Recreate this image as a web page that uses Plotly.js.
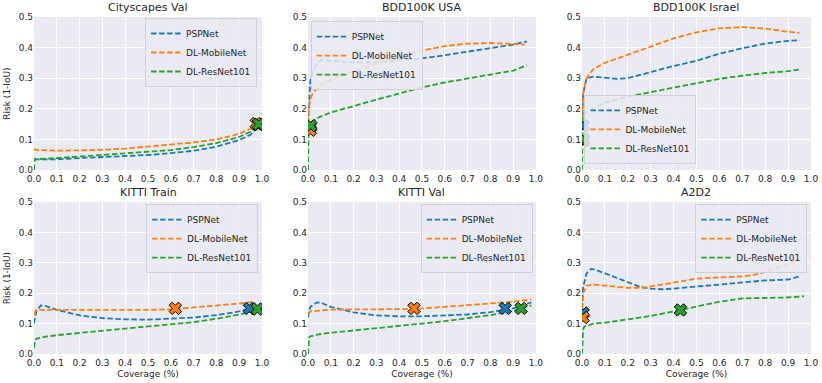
<!DOCTYPE html>
<html>
<head>
<meta charset="utf-8">
<script src="https://cdn.plot.ly/plotly-3.0.1.min.js"></script>
<style>
  html, body { margin: 0; padding: 0; background: #fff; }
  #chart { width: 822px; height: 383px; }
</style>
</head>
<body>
<div id="chart"></div>
<script>
const PANEL_TITLES = ['Cityscapes Val', 'BDD100K USA', 'BDD100K Israel', 'KITTI Train', 'KITTI Val', 'A2D2'];
const SERIES_NAMES = ['PSPNet', 'DL-MobileNet', 'DL-ResNet101'];
const X_TICKS = [0, 0.1, 0.2, 0.3, 0.4, 0.5, 0.6, 0.7, 0.8, 0.9, 1.0];
const Y_TICKS = [0, 0.1, 0.2, 0.3, 0.4, 0.5];

// Cityscapes Val
const cityPspX = [0, 0.1, 0.2, 0.3, 0.4, 0.5, 0.6, 0.7, 0.8, 0.9, 0.95, 0.985];
const cityPspY = [0.035, 0.035, 0.039, 0.042, 0.045, 0.049, 0.055, 0.063, 0.076, 0.098, 0.115, 0.145];
const cityMobX = [0, 0.005, 0.1, 0.2, 0.3, 0.4, 0.5, 0.6, 0.7, 0.8, 0.9, 0.95, 0.975];
const cityMobY = [0.07, 0.066, 0.063, 0.064, 0.066, 0.07, 0.076, 0.082, 0.09, 0.1, 0.118, 0.135, 0.152];
const cityResX = [0, 0.003, 0.1, 0.2, 0.3, 0.4, 0.5, 0.6, 0.7, 0.8, 0.9, 0.95, 0.985];
const cityResY = [0.0, 0.035, 0.039, 0.044, 0.048, 0.053, 0.058, 0.065, 0.075, 0.088, 0.108, 0.125, 0.15];
const cityMarkX = [0.985, 0.975, 0.985];
const cityMarkY = [0.148, 0.152, 0.15];

// BDD100K USA
const usaPspX = [0, 0.005, 0.01, 0.02, 0.04, 0.06, 0.1, 0.2, 0.3, 0.4, 0.5, 0.6, 0.7, 0.8, 0.9, 0.96];
const usaPspY = [0.15, 0.24, 0.29, 0.32, 0.35, 0.36, 0.357, 0.352, 0.352, 0.358, 0.365, 0.375, 0.386, 0.398, 0.41, 0.42];
const usaMobX = [0, 0.003, 0.01, 0.02, 0.05, 0.1, 0.2, 0.3, 0.4, 0.5, 0.6, 0.7, 0.8, 0.9, 0.95];
const usaMobY = [0.13, 0.2, 0.23, 0.25, 0.275, 0.295, 0.322, 0.345, 0.37, 0.39, 0.405, 0.413, 0.415, 0.412, 0.41];
const usaResX = [0, 0.003, 0.01, 0.05, 0.1, 0.2, 0.3, 0.4, 0.5, 0.6, 0.7, 0.8, 0.9, 0.96];
const usaResY = [0.0, 0.14, 0.155, 0.173, 0.188, 0.21, 0.23, 0.25, 0.27, 0.286, 0.3, 0.312, 0.325, 0.342];
const usaMarkX = [0.01, 0.01, 0.012];
const usaMarkY = [0.14, 0.13, 0.145];

// BDD100K Israel
const isrPspX = [0, 0.005, 0.02, 0.05, 0.1, 0.15, 0.2, 0.25, 0.3, 0.4, 0.5, 0.6, 0.7, 0.8, 0.9, 0.95];
const isrPspY = [0.15, 0.25, 0.3, 0.305, 0.302, 0.298, 0.3, 0.31, 0.322, 0.34, 0.357, 0.38, 0.398, 0.413, 0.422, 0.424];
const isrMobX = [0, 0.005, 0.02, 0.05, 0.1, 0.2, 0.3, 0.4, 0.5, 0.6, 0.7, 0.8, 0.9, 0.95];
const isrMobY = [0.14, 0.25, 0.3, 0.33, 0.35, 0.377, 0.405, 0.43, 0.45, 0.463, 0.467, 0.462, 0.452, 0.448];
const isrResX = [0, 0.003, 0.05, 0.1, 0.2, 0.3, 0.4, 0.5, 0.6, 0.7, 0.8, 0.9, 0.95];
const isrResY = [0.0, 0.18, 0.2, 0.22, 0.24, 0.255, 0.27, 0.285, 0.298, 0.308, 0.317, 0.323, 0.328];
const isrMarkX = [0.005, 0.005, 0.005];
const isrMarkY = [0.145, 0.095, 0.1];

// KITTI Train
const ktPspX = [0, 0.01, 0.03, 0.05, 0.1, 0.2, 0.3, 0.4, 0.5, 0.6, 0.7, 0.8, 0.9, 0.95];
const ktPspY = [0.1, 0.14, 0.16, 0.158, 0.145, 0.127, 0.118, 0.114, 0.113, 0.116, 0.12, 0.128, 0.14, 0.15];
const ktMobX = [0, 0.01, 0.1, 0.3, 0.5, 0.6, 0.7, 0.8, 0.9, 0.97];
const ktMobY = [0.13, 0.145, 0.145, 0.144, 0.145, 0.147, 0.153, 0.16, 0.166, 0.172];
const ktResX = [0, 0.005, 0.01, 0.05, 0.1, 0.2, 0.3, 0.4, 0.5, 0.6, 0.7, 0.8, 0.9, 0.97, 1.0];
const ktResY = [0.02, 0.045, 0.05, 0.057, 0.062, 0.069, 0.076, 0.082, 0.089, 0.097, 0.105, 0.116, 0.13, 0.143, 0.15];
const ktMarkX = [0.945, 0.62, 0.98];
const ktMarkY = [0.15, 0.15, 0.148];

// KITTI Val
const kvPspX = [0, 0.01, 0.04, 0.06, 0.1, 0.2, 0.3, 0.4, 0.5, 0.6, 0.7, 0.8, 0.9, 0.98];
const kvPspY = [0.12, 0.155, 0.17, 0.168, 0.155, 0.137, 0.127, 0.124, 0.124, 0.126, 0.13, 0.138, 0.15, 0.17];
const kvMobX = [0, 0.01, 0.1, 0.3, 0.46, 0.6, 0.7, 0.8, 0.9, 0.98];
const kvMobY = [0.13, 0.14, 0.146, 0.146, 0.148, 0.155, 0.16, 0.167, 0.172, 0.18];
const kvResX = [0, 0.005, 0.01, 0.05, 0.1, 0.2, 0.3, 0.4, 0.5, 0.6, 0.7, 0.8, 0.9, 0.98];
const kvResY = [0.0, 0.055, 0.058, 0.065, 0.07, 0.077, 0.085, 0.092, 0.1, 0.108, 0.117, 0.128, 0.142, 0.16];
const kvMarkX = [0.865, 0.465, 0.935];
const kvMarkY = [0.15, 0.15, 0.15];

// A2D2
const a2PspX = [0, 0.005, 0.02, 0.04, 0.06, 0.1, 0.2, 0.25, 0.3, 0.35, 0.4, 0.5, 0.6, 0.7, 0.8, 0.9, 0.95];
const a2PspY = [0.15, 0.22, 0.265, 0.28, 0.277, 0.265, 0.235, 0.222, 0.215, 0.213, 0.215, 0.222, 0.23, 0.237, 0.242, 0.245, 0.255];
const a2MobX = [0, 0.005, 0.02, 0.05, 0.1, 0.2, 0.27, 0.3, 0.4, 0.5, 0.6, 0.7, 0.75, 0.8, 0.9, 0.94];
const a2MobY = [0.12, 0.2, 0.225, 0.228, 0.225, 0.218, 0.218, 0.222, 0.235, 0.248, 0.252, 0.255, 0.26, 0.27, 0.295, 0.308];
const a2ResX = [0, 0.005, 0.01, 0.05, 0.1, 0.2, 0.3, 0.4, 0.5, 0.6, 0.7, 0.8, 0.9, 0.97];
const a2ResY = [0.0, 0.08, 0.09, 0.1, 0.103, 0.113, 0.125, 0.14, 0.155, 0.172, 0.183, 0.184, 0.186, 0.19];
const a2MarkX = [0.005, 0.005, 0.43];
const a2MarkY = [0.135, 0.12, 0.145];

const COLORS = ['#1f77b4', '#ff7f0e', '#2ca02c'];
const BG = '#eaeaf2';
const FONT = 'DejaVu Sans, sans-serif';

const panels = [
  { lines: [[cityPspX, cityPspY], [cityMobX, cityMobY], [cityResX, cityResY]], markX: cityMarkX, markY: cityMarkY },
  { lines: [[usaPspX, usaPspY], [usaMobX, usaMobY], [usaResX, usaResY]], markX: usaMarkX, markY: usaMarkY },
  { lines: [[isrPspX, isrPspY], [isrMobX, isrMobY], [isrResX, isrResY]], markX: isrMarkX, markY: isrMarkY },
  { lines: [[ktPspX, ktPspY], [ktMobX, ktMobY], [ktResX, ktResY]], markX: ktMarkX, markY: ktMarkY },
  { lines: [[kvPspX, kvPspY], [kvMobX, kvMobY], [kvResX, kvResY]], markX: kvMarkX, markY: kvMarkY },
  { lines: [[a2PspX, a2PspY], [a2MobX, a2MobY], [a2ResX, a2ResY]], markX: a2MarkX, markY: a2MarkY }
];

const xDomains = [[0.0414, 0.3187], [0.3747, 0.652], [0.708, 0.9866]];
const yDomains = [[0.5561, 0.9556], [0.0757, 0.4726]];

const legendPos = [
  { x: 0.3127, y: 0.953, xanchor: 'right', yanchor: 'top' },
  { x: 0.378, y: 0.945, xanchor: 'left', yanchor: 'top' },
  { x: 0.711, y: 0.572, xanchor: 'left', yanchor: 'bottom' },
  { x: 0.314, y: 0.467, xanchor: 'right', yanchor: 'top' },
  { x: 0.648, y: 0.467, xanchor: 'right', yanchor: 'top' },
  { x: 0.982, y: 0.467, xanchor: 'right', yanchor: 'top' }
];

function axisSuffix(i) {
  return i === 0 ? '' : String(i + 1);
}

function buildTraces() {
  const traces = [];
  panels.forEach((panel, p) => {
    const sfx = axisSuffix(p);
    const legendId = 'legend' + sfx;
    panel.lines.forEach(([xs, ys], s) => {
      traces.push({
        type: 'scatter',
        mode: 'lines',
        name: SERIES_NAMES[s],
        x: xs,
        y: ys,
        xaxis: 'x' + sfx,
        yaxis: 'y' + sfx,
        legend: legendId,
        line: { color: COLORS[s], width: 1.8, dash: '5.5px,2.5px' }
      });
    });
    panel.markX.forEach((mx, s) => {
      traces.push({
        type: 'scatter',
        mode: 'markers',
        x: [mx],
        y: [panel.markY[s]],
        xaxis: 'x' + sfx,
        yaxis: 'y' + sfx,
        showlegend: false,
        hoverinfo: 'skip',
        marker: { symbol: 'x', size: 11, color: COLORS[s], line: { color: '#000', width: 1 } }
      });
    });
  });
  return traces;
}

function buildLayout() {
  const layout = {
    width: 822,
    height: 383,
    margin: { l: 0, r: 0, t: 0, b: 0 },
    paper_bgcolor: '#fff',
    plot_bgcolor: BG,
    font: { family: FONT, size: 9, color: '#262626' },
    showlegend: true,
    annotations: []
  };

  panels.forEach((panel, p) => {
    const sfx = axisSuffix(p);
    const row = p < 3 ? 0 : 1;
    const col = p % 3;
    layout['xaxis' + sfx] = {
      domain: xDomains[col],
      anchor: 'y' + sfx,
      range: [0, 1],
      tickvals: X_TICKS,
      ticktext: X_TICKS.map((v) => v.toFixed(1)),
      showgrid: true,
      gridcolor: '#fff',
      gridwidth: 1,
      zeroline: false,
      showline: false,
      ticks: '',
      ticklabelstandoff: 2,
      tickfont: { size: 9, color: '#262626' },
      fixedrange: true,
      title: row === 1 ? { text: 'Coverage (%)', font: { size: 9, color: '#262626' }, standoff: 3 } : { text: '' }
    };
    layout['yaxis' + sfx] = {
      domain: yDomains[row],
      anchor: 'x' + sfx,
      range: [0, 0.5],
      tickvals: Y_TICKS,
      ticktext: Y_TICKS.map((v) => v.toFixed(1)),
      showgrid: true,
      gridcolor: '#fff',
      gridwidth: 1,
      zeroline: false,
      showline: false,
      ticks: '',
      tickfont: { size: 9, color: '#262626' },
      fixedrange: true,
      title: col === 0 ? { text: 'Risk (1-IoU)', font: { size: 9, color: '#262626' }, standoff: 6 } : { text: '' }
    };
    layout['legend' + sfx] = Object.assign({
      bgcolor: 'rgba(234,234,242,0.85)',
      bordercolor: '#cfcfd6',
      borderwidth: 1,
      font: { size: 9, color: '#262626' },
      itemwidth: 30,
      tracegroupgap: 0
    }, legendPos[p]);
    layout.annotations.push({
      text: PANEL_TITLES[p],
      xref: 'paper',
      yref: 'paper',
      x: (xDomains[col][0] + xDomains[col][1]) / 2,
      y: yDomains[row][1],
      xanchor: 'center',
      yanchor: 'bottom',
      yshift: 1,
      showarrow: false,
      font: { size: 11, color: '#262626' }
    });
  });
  return layout;
}

Plotly.newPlot('chart', buildTraces(), buildLayout(), { displayModeBar: false, staticPlot: true });
</script>
</body>
</html>
